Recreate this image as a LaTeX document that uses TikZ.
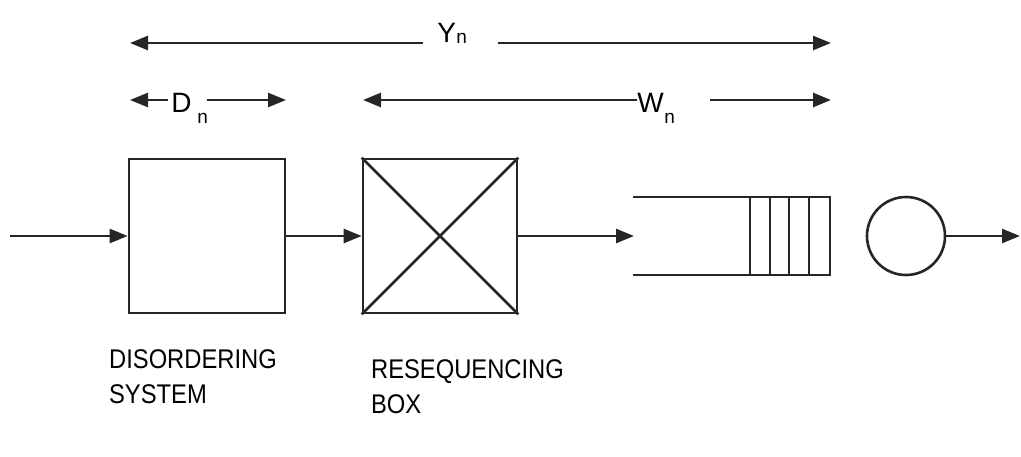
\documentclass[tikz,border=0pt]{standalone}
\usepackage{fontspec}
\setmainfont{Liberation Sans}
\usetikzlibrary{arrows.meta}
\begin{document}
\begin{tikzpicture}[x=1pt,y=-1pt,
  line width=2.6pt, draw={black!85},
  tip/.style={-{Triangle[length=18pt,width=14pt]}},
  lbl/.style={inner sep=0pt, anchor=base west, font=\fontsize{28}{30}\selectfont},
  sub/.style={inner sep=0pt, anchor=base west, font=\fontsize{19}{20}\selectfont},
  caption/.style={inner sep=0pt, anchor=base west, xscale=0.88, align=left,
     font=\fontsize{27}{35}\selectfont},
  blk/.style={draw, rectangle, inner sep=0pt, minimum width=156pt, minimum height=154pt}]
\useasboundingbox (0,0) rectangle (1021,456);
% dimension arrows
\coordinate (yl) at (130,43); \coordinate (yle) at (423,43);
\coordinate (yrs) at (498,43); \coordinate (yr) at (831,43);
\draw[tip] (yle) -- (yl);
\draw[tip] (yrs) -- (yr);
\node[lbl] (Y) at (436,42) {Y};
\node[sub] (Yn) at (455,43) {n};
\coordinate (dl) at (130,100); \coordinate (dle) at (168,100);
\coordinate (drs) at (207,100); \coordinate (dr) at (286,100);
\draw[tip] (dle) -- (dl);
\draw[tip] (drs) -- (dr);
\node[lbl] (D) at (170,112) {D};
\node[sub] (Dn) at (196,123) {n};
\coordinate (wl) at (363,100); \coordinate (wle) at (637,100);
\coordinate (wrs) at (710,100); \coordinate (wr) at (831,100);
\draw[tip] (wle) -- (wl);
\draw[tip] (wrs) -- (wr);
\node[lbl] (W) at (636,112) {W};
\node[sub] (Wn) at (663,123) {n};
% boxes
\node[blk] (b1) at (207,236) {};
\node[blk, minimum width=154pt] (b2) at (440,236) {};
\draw (b2.north west) -- (b2.south east);
\draw (b2.north east) -- (b2.south west);
% queue
\coordinate (q) at (634,236);
\draw (633,197) -- (830,197) -- (830,275) -- (633,275);
\foreach \x in {750,770,789,809} \draw (\x,197) -- (\x,275);
\node[draw, circle, inner sep=0pt, minimum size=78pt] (srv) at (906,236) {};
% flow arrows
\coordinate (in) at (10,236);
\coordinate (out) at (1020,236);
\draw[tip] (in) -- (b1.west);
\draw[tip] (b1.east) -- (b2.west);
\draw[tip] (b2.east) -- (q);
\draw[tip] (srv.east) -- (out);
% captions
\node[caption] (c1) at (108,403) {DISORDERING\\SYSTEM};
\node[caption] (c2) at (370,413) {RESEQUENCING\\BOX};
\end{tikzpicture}
\end{document}
